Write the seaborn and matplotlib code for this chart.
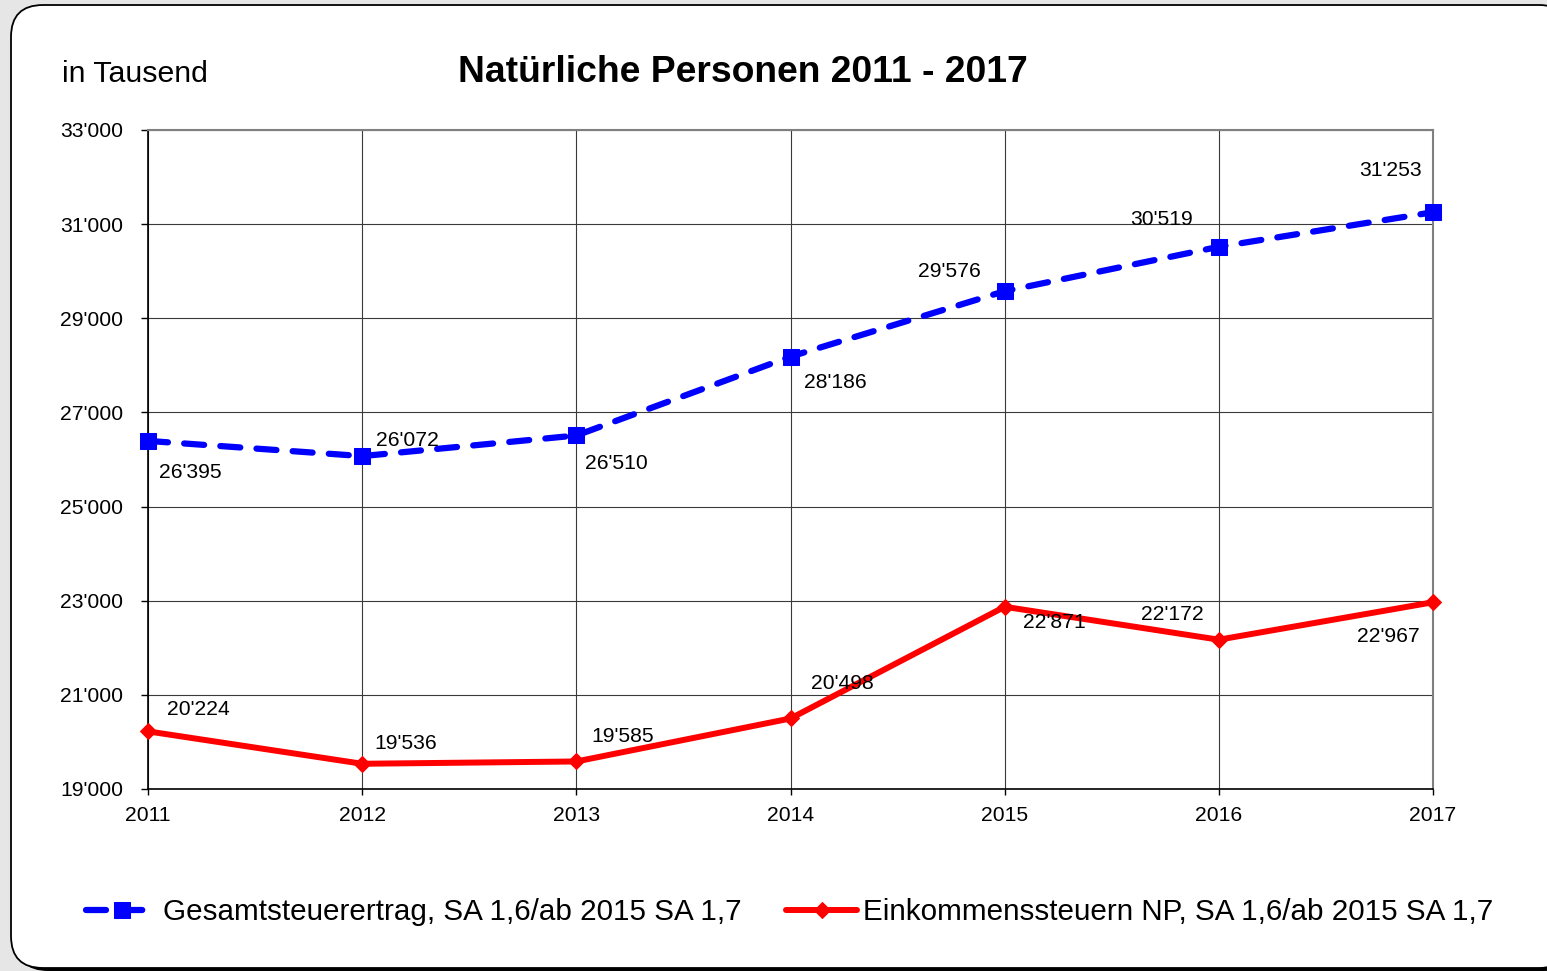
import numpy as np
import pandas as pd
import matplotlib
matplotlib.use("Agg")
import matplotlib.pyplot as plt
import seaborn as sns
from matplotlib.patches import FancyBboxPatch
from matplotlib.transforms import IdentityTransform
from matplotlib.ticker import FuncFormatter

# Data (in thousands)
years = [2011, 2012, 2013, 2014, 2015, 2016, 2017]
gesamt = [26395, 26072, 26510, 28186, 29576, 30519, 31253]
einkommen = [20224, 19536, 19585, 20498, 22871, 22172, 22967]

label_gesamt = "Gesamtsteuerertrag, SA 1,6/ab 2015 SA 1,7"
label_einkommen = "Einkommenssteuern NP, SA 1,6/ab 2015 SA 1,7"
y_ticks = [19000, 21000, 23000, 25000, 27000, 29000, 31000, 33000]

# label offsets (points) and alignment
off_gesamt = [(8, -23, "left"), (10, 11.5, "left"), (6.5, -20, "left"), (10, -19, "left"),
              (-17, 14, "right"), (-19, 20, "right"), (-8, 30, "right")]
off_einkommen = [(14, 16, "left"), (9, 14.5, "left"), (11, 18, "left"), (15, 25, "left"),
                 (13, -11.5, "left"), (-11, 18, "right"), (-9.5, -24.5, "right")]

sns.set_theme(style="white")
plt.rcParams["font.family"] = ["Liberation Sans", "DejaVu Sans"]
plt.rcParams["text.color"] = "black"
plt.rcParams["xtick.color"] = "black"
plt.rcParams["ytick.color"] = "black"

fig = plt.figure(figsize=(15.47, 9.71), dpi=100, facecolor="#e6e6e6")

# rounded white panel with a little shadow
shadow = FancyBboxPatch((16, 0), 1560, 960, boxstyle="round,pad=0,rounding_size=32",
                        transform=IdentityTransform(), facecolor="black",
                        edgecolor="none", zorder=0)
fig.add_artist(shadow)
panel = FancyBboxPatch((11, 3), 1560, 963, boxstyle="round,pad=0,rounding_size=32",
                       transform=IdentityTransform(), facecolor="white",
                       edgecolor="black", linewidth=1.3, zorder=0)
fig.add_artist(panel)

ax = fig.add_axes([148 / 1547, 1 - 789 / 971, (1433 - 148) / 1547, (789 - 130) / 971])
ax.set_facecolor("white")

df = pd.DataFrame({"Jahr": years, "Gesamt": gesamt, "Einkommen": einkommen})

sns.lineplot(data=df, x="Jahr", y="Gesamt", ax=ax, color="#0000ff", linewidth=4.5,
             linestyle=(0, (3.2, 2.6)), dash_capstyle="round", marker="s", markersize=11,
             markeredgecolor="#0000ff", label=label_gesamt, zorder=4, clip_on=False)
sns.lineplot(data=df, x="Jahr", y="Einkommen", ax=ax, color="#ff0000", linewidth=4.3,
             marker="D", markersize=8, markeredgecolor="#ff0000",
             label=label_einkommen, zorder=4, clip_on=False)

ax.set_xlim(2011, 2017)
ax.set_ylim(19000, 33000)
ax.set_xticks(years)
ax.set_yticks(y_ticks)
ax.yaxis.set_major_formatter(FuncFormatter(lambda v, p: f"{int(v):,}".replace(",", "'")))
ax.set_xlabel("")
ax.set_ylabel("")

ax.grid(True, color="#3a3a3a", linewidth=0.8)
ax.set_axisbelow(True)
for s in ["top", "right"]:
    ax.spines[s].set_color("#808080")
    ax.spines[s].set_linewidth(1.5)
for s in ["left", "bottom"]:
    ax.spines[s].set_color("black")
    ax.spines[s].set_linewidth(1.2)

ax.tick_params(axis="y", left=True, length=5, width=1, pad=13, labelsize=15.2, colors="black")
ax.tick_params(axis="x", bottom=True, length=4, width=1, pad=8, labelsize=15.2, colors="black")

# data labels
for x, y, (dx, dy, ha) in zip(years, gesamt, off_gesamt):
    ax.annotate(f"{y:,}".replace(",", "'"), (x, y), xytext=(dx, dy), textcoords="offset points",
                ha=ha, va="center", fontsize=15.2, color="black", zorder=6)
for x, y, (dx, dy, ha) in zip(years, einkommen, off_einkommen):
    ax.annotate(f"{y:,}".replace(",", "'"), (x, y), xytext=(dx, dy), textcoords="offset points",
                ha=ha, va="center", fontsize=15.2, color="black", zorder=6)

handles, labels = ax.get_legend_handles_labels()
ax.get_legend().remove()
fig.legend(handles, labels, loc="center", bbox_to_anchor=(790 / 1547, 1 - 912 / 971),
           ncol=2, frameon=False, fontsize=21.3, handlelength=2.4, handletextpad=0.2,
           columnspacing=1.5, numpoints=1)

fig.text(743 / 1547, 1 - 72 / 971, "Natürliche Personen 2011 - 2017", ha="center", va="center",
         fontsize=26.8, fontweight="bold", color="black")
fig.text(62 / 1547, 1 - 74 / 971, "in Tausend", ha="left", va="center", fontsize=21.8,
         color="black")

fig.savefig("out.png", dpi=100, facecolor=fig.get_facecolor())
